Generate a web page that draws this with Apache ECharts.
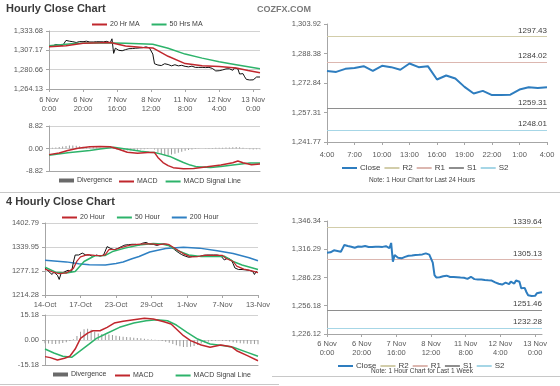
<!DOCTYPE html>
<html><head><meta charset="utf-8">
<script src="https://cdn.jsdelivr.net/npm/echarts@6/dist/echarts.min.js"></script>
<style>html,body{margin:0;padding:0;background:#fff}#c{width:560px;height:386px}</style>
</head><body><div id="c"></div><script>
// ---------- DATA ----------
const hourDays = ['6 Nov','7 Nov','8 Nov','11 Nov','12 Nov','13 Nov'];
const hoursInDay = [24,24,24,24,24,5];
const dayHours = ['4:00','5:00','6:00','7:00','8:00','9:00','10:00','11:00','12:00','13:00','14:00','15:00','16:00','17:00','18:00','19:00','20:00','21:00','22:00','23:00','0:00','1:00','2:00','3:00','4:00'];
const fourHourTicks = ['14-Oct','17-Oct','23-Oct','29-Oct','1-Nov','7-Nov','13-Nov'];

// hourly close, 6 Nov 0:00 .. 13 Nov 4:00
const weekClose = [
1312.6,1310.8,1313.0,1314.7,1315.2,1315.4,1314.4,1314.8,1313.6,1317.2,
1320.8,1321.5,1319.7,1319.3,1319.0,1318.4,1317.9,1318.6,1319.2,1318.8,
1319.0,1319.4,1319.7,1319.2,1318.6,1319.4,1318.6,1317.9,1319.0,1319.7,
1318.9,1317.9,1318.8,1320.0,1319.5,1319.0,1317.4,1323.0,1303.0,1310.1,
1309.0,1307.2,1306.8,1306.6,1307.5,1308.2,1308.8,1309.4,1309.0,1309.6,
1310.1,1310.1,1309.6,1310.4,1310.8,1310.8,1311.4,1311.9,1310.1,1310.6,
1310.0,1302.0,1288.8,1286.3,1287.0,1286.5,1286.3,1287.5,1288.8,1288.2,
1287.7,1286.8,1285.9,1286.8,1287.4,1286.5,1285.9,1286.2,1286.6,1286.0,
1285.2,1284.8,1284.5,1287.0,1285.5,1284.5,1283.8,1284.2,1283.8,1284.0,
1283.8,1283.5,1283.5,1283.2,1283.8,1283.0,1282.4,1281.0,1278.9,1279.6,
1279.2,1278.7,1280.3,1280.7,1281.7,1279.2,1281.9,1281.2,1279.8,1283.1,
1281.2,1281.7,1274.7,1276.8,1275.2,1270.8,1267.3,1268.7,1266.5,1266.5,
1266.7,1269.4,1270.6,1270.2,1270.6];
const dayStartIndex = 100; // 12 Nov 4:00

const ma20Hourly = [[0,1312],[10,1313.5],[20,1317],[30,1317.5],[36,1318],[45,1313],[55,1311],[61,1310.5],[70,1299],[80,1289],[90,1286],[100,1285],[110,1283],[117,1279.5],[124,1276.5]];
const ma50Hourly = [[0,1313.5],[15,1316.5],[30,1317.5],[45,1317],[61,1315.5],[70,1310],[80,1302],[90,1296.5],[100,1291.5],[110,1287.5],[124,1282]];
const macdHourly = [[0,-2.4],[6,-1.8],[11,-0.8],[17,0.1],[24,0.7],[30,0.8],[36,0.7],[41,-0.3],[46,-1.5],[52,-1.9],[58,-1.6],[62,-1.6],[64,-3.5],[67,-5.5],[70,-6.7],[73,-7.5],[79,-7.9],[85,-7.8],[93,-7.2],[101,-6.5],[108,-5.6],[111,-4.9],[114,-5.6],[119,-6.4],[124,-6.1]];
const signalHourly = [[0,-2.6],[11,-1.7],[24,-0.8],[30,-0.2],[36,0.3],[38,0.5],[43,0.0],[48,-0.5],[54,-1.1],[59,-1.5],[62,-1.6],[66,-2.2],[71,-3.1],[75,-4.3],[79,-5.5],[83,-6.5],[87,-7.2],[95,-7.4],[101,-7.1],[108,-6.5],[118,-5.7],[124,-5.7]];
// divergence, every 2nd hour
const divHourly = [0.2,0.3,0.4,0.6,0.8,1.0,1.2,1.2,1.1,0.9,0.7,0.6,0.5,0.5,0.4,0.3,0.2,0.1,0.0,-0.2,-0.5,-0.7,-0.8,-0.8,-0.7,-0.6,-0.5,-0.4,-0.3,-0.2,-0.1,-0.4,-1.6,-2.3,-2.6,-2.6,-2.4,-2.1,-1.7,-1.3,-0.9,-0.6,-0.4,-0.2,-0.1,0.0,0.1,0.2,0.2,0.3,0.3,0.3,0.4,0.4,0.5,0.6,0.5,0.3,-0.1,-0.3,-0.4,-0.3,-0.3];

// 4-hourly
const close4h = [
1285,1281,1276,1279,1268,1274,1272,1266,1255,1270,
1272,1275,1276,1279,1280,1276,1300,1319,1316,1319,
1322,1324,1320,1319,1321,1319,1316,1315,1318,1319,
1315,1316,1317,1319,1318,1341,1338,1336,1334,1333,
1332,1336,1339,1341,1343,1345,1344,1346,1348,1347,
1345,1347,1349,1345,1347,1350,1348,1352,1349,1347,
1349,1347,1345,1344,1346,1347,1346,1348,1353,1345,
1343,1341,1340,1333,1328,1326,1324,1320,1319,1316,
1315,1313,1311,1315,1314,1315,1316,1315,1317,1318,
1319,1319,1318,1319,1320,1319,1318,1319,1318,1317,
1319,1306,1309,1311,1308,1306,1296,1285,1283,1281,
1280,1281,1282,1280,1281,1279,1277,1276,1268,1276,1272];
const ma20_4h = [[0,1282],[4,1275],[8,1270],[12,1272],[16,1284],[18,1303],[20,1314],[24,1320],[28,1318],[32,1317],[34,1320],[36,1333],[40,1334],[44,1340],[48,1345],[52,1347],[56,1348],[60,1348],[64,1346],[68,1348],[70,1346],[74,1334],[78,1322],[82,1314],[86,1315],[90,1318],[96,1318],[100,1318],[102,1310],[106,1302],[108,1290],[112,1282],[116,1278],[120,1273]];
const ma50_4h = [[0,1287],[6,1274],[12,1272],[17,1276],[22,1302],[28,1317],[34,1318],[38,1328],[45,1337],[53,1345],[61,1349],[66,1348],[70,1343],[76,1328],[81,1319],[88,1315],[96,1315],[101,1316],[106,1302],[111,1293],[120,1281]];
const ma200_4h = [[0,1305],[12,1301],[19,1296],[25,1293.5],[34,1293],[40,1297],[44,1300.5],[49,1309],[53,1315],[59,1327],[68,1336],[78,1339],[87,1337],[97,1330],[106,1323],[115,1312],[120,1304]];
const macd4h = [[0,-10.1],[3,-10.7],[7,-12.1],[11,-11.1],[14,-9.9],[17,-5.5],[20,1.0],[24,4.2],[27,5.6],[31,5.6],[35,7.7],[39,10.3],[44,11.4],[50,12.3],[56,13.2],[61,12.8],[67,11.1],[71,9.7],[74,6.7],[78,2.6],[82,-0.4],[88,-3.0],[93,-4.4],[99,-3.0],[105,-4.1],[108,-6.5],[114,-9.5],[120,-12.6]];
const signal4h = [[0,-5.5],[5,-7.9],[10,-9.9],[15,-10.5],[20,-6.5],[25,-2.4],[29,1.0],[35,4.1],[42,7.7],[50,10.3],[57,11.7],[63,12.3],[69,11.7],[74,9.1],[80,4.7],[86,0.6],[93,-2.4],[101,-3.5],[106,-4.4],[114,-7.5],[120,-9.9]];
const div4h = [-2.0,-2.2,-2.4,-2.5,-2.3,-1.8,-1.3,-0.6,0.5,2.5,5.0,6.5,6.8,6.2,5.0,4.0,3.6,3.5,3.4,3.0,2.6,2.3,2.0,1.8,1.6,1.4,1.2,1.0,0.8,0.5,0.3,0.1,-0.2,-0.6,-1.0,-1.6,-2.4,-3.2,-3.8,-4.2,-4.3,-4.1,-3.6,-3.0,-2.2,-1.5,-1.0,-0.6,-0.4,-0.3,-0.4,-0.6,-0.9,-1.3,-1.7,-2.0,-2.2,-2.3,-2.4,-2.5,-2.6];

// pivot levels
const dayLevels = {R2:1297.43, R1:1284.02, S1:1259.31, S2:1248.01};
const weekLevels = {R2:1339.64, R1:1305.13, S1:1251.46, S2:1232.28};

// axis ticks
const ticksA = [1254.15,1280.66,1307.17,1333.68], labelsA = ['1,264.13','1,280.66','1,307.17','1,333.68'];
const ticksB = [-8.82,0,8.82], labelsB = ['-8.82','0.00','8.82'];
const ticksC = [1214.28,1277.12,1339.95,1402.79], labelsC = ['1214.28','1277.12','1339.95','1402.79'];
const ticksD = [-15.18,0,15.18], labelsD = ['-15.18','0.00','15.18'];
const ticksE = [1241.77,1257.31,1272.84,1288.38,1303.92], labelsE = ['1,241.77','1,257.31','1,272.84','1,288.38','1,303.92'];
const ticksF = [1226.12,1256.18,1286.23,1316.29,1346.34], labelsF = ['1,226.12','1,256.18','1,286.23','1,316.29','1,346.34'];

// ---------- BUILD ----------
const hourCats = [];
hourDays.forEach((d, k) => { for (let h = 0; h < hoursInDay[k]; h++) hourCats.push(d + '\n' + h + ':00'); });
const fourHourCats = [];
for (let i = 0; i <= (fourHourTicks.length - 1) * 20; i++) fourHourCats.push(i % 20 === 0 ? fourHourTicks[i / 20] : '');
const dayClose = weekClose.slice(dayStartIndex);
const pairsEvery = (arr, step) => arr.map((v, k) => [k * step, v]);

const FONT = 'Liberation Sans';
const C = {black:'#111111', red:'#c0272d', green:'#2db36a', blue:'#2f80c3', rclose:'#2e7dbf',
  R2:'#d2cdaa', R1:'#dcb7b0', S1:'#8e8e8e', S2:'#a6d6e6', div:'#9a9a9a', axis:'#a6a6a6', grid:'#d2d2d2', label:'#595959'};

function yAx(g, ticks, labels, split) {
  return {
    type:'value', gridIndex:g, min:ticks[0], max:ticks[ticks.length-1],
    axisLine:{show:true, lineStyle:{color:C.axis}},
    axisTick:{show:true, length:3, customValues:ticks, lineStyle:{color:C.axis}},
    axisLabel:{customValues:ticks, fontSize:7.5, color:C.label, fontFamily:FONT, margin:6,
      formatter:v => { const k = ticks.findIndex(t => Math.abs(t - v) < 1e-6); return k >= 0 ? labels[k] : ''; }},
    splitLine:{show:split, lineStyle:{color:C.grid}}
  };
}
function xAx(g, data, interval, showLabel, margin) {
  return {
    type:'category', gridIndex:g, data:data, boundaryGap:false,
    axisLine:{show:true, onZero:false, lineStyle:{color:C.axis}},
    axisTick:{show:showLabel, interval:interval, length:3, lineStyle:{color:C.axis}},
    axisLabel:{show:showLabel, interval:interval, fontSize:7.5, color:C.label, fontFamily:FONT, lineHeight:9, margin:margin},
    splitLine:{show:false}
  };
}
function line(name, xi, data, color, width, z) {
  return {name, type:'line', xAxisIndex:xi, yAxisIndex:xi, data, symbol:'none', silent:true, z:z||2,
    lineStyle:{color, width}, itemStyle:{color}};
}
function bars(name, xi, data) {
  return {name, type:'bar', xAxisIndex:xi, yAxisIndex:xi, data, barWidth:1, silent:true,
    itemStyle:{color:C.div}};
}
function level(name, xi, value) {
  return {name, type:'line', xAxisIndex:xi, yAxisIndex:xi, data:[], symbol:'none', silent:true,
    lineStyle:{color:C[name], width:1}, itemStyle:{color:C[name]},
    markLine:{silent:true, symbol:'none', animation:false,
      lineStyle:{color:C[name], type:'solid', width:1.2},
      label:{position:'insideEndTop', distance:[0,2], fontSize:8, color:'#404040', fontFamily:FONT,
        formatter:p => p.value.toFixed(2)},
      data:[{yAxis:value}]}};
}
function legend(left, top, data, gap, size, h) {
  return {left, top, data, itemGap:gap, itemWidth:15, itemHeight:h||2, icon:'rect', padding:0, selectedMode:false,
    textStyle:{fontSize:size||7, color:'#404040', fontFamily:FONT, padding:[0,0,0,-2]}};
}

const option = {
  animation:false,
  backgroundColor:'#fff',
  title:[
    {text:'Hourly Close Chart', left:6, top:3, padding:0, textStyle:{fontSize:11, fontWeight:'bold', color:'#3a3a3a', fontFamily:FONT}},
    {text:'COZFX.COM', left:257, top:5, padding:0, textStyle:{fontSize:9, fontWeight:'bold', color:'#7a7a7a', fontFamily:FONT}},
    {text:'4 Hourly Close Chart', left:6, top:196, padding:0, textStyle:{fontSize:11, fontWeight:'bold', color:'#3a3a3a', fontFamily:FONT}}
  ],
  grid:[
    {left:49, top:31, width:211, height:58, outerBoundsMode:'none'},
    {left:49, top:126, width:211, height:45, outerBoundsMode:'none'},
    {left:45, top:223, width:213, height:72, outerBoundsMode:'none'},
    {left:45, top:315, width:213, height:50, outerBoundsMode:'none'},
    {left:327, top:24, width:220, height:118, outerBoundsMode:'none'},
    {left:327, top:221, width:215, height:113, outerBoundsMode:'none'}
  ],
  xAxis:[
    xAx(0, hourCats, 19, true, 6),
    xAx(1, hourCats, 19, false, 5),
    xAx(2, fourHourCats, 19, true, 5),
    xAx(3, fourHourCats, 19, false, 5),
    xAx(4, dayHours, 2, true, 8),
    xAx(5, hourCats, 19, true, 5)
  ],
  yAxis:[
    yAx(0, ticksA, labelsA, true),
    yAx(1, ticksB, labelsB, true),
    yAx(2, ticksC, labelsC, true),
    yAx(3, ticksD, labelsD, true),
    yAx(4, ticksE, labelsE, false),
    yAx(5, ticksF, labelsF, false)
  ],
  legend:[
    legend(92, 21, ['20 Hr MA','50 Hrs MA'], 12),
    legend(59, 177, [{name:'Divergence', itemStyle:{color:'#6a6a6a'}}], 6, 7, 4),
    legend(119, 178, ['MACD','MACD Signal Line'], 8),
    legend(62, 214, ['20 Hour','50 Hour','200 Hour'], 12),
    legend(53, 371, [{name:'Divergence', itemStyle:{color:'#6a6a6a'}}], 6, 7, 4),
    legend(115, 372, ['MACD','MACD Signal Line'], 22),
    legend(342, 164, ['Close','R2','R1','S1','S2'], 4, 8),
    legend(338, 362, ['Close','R2','R1','S1','S2'], 4, 8)
  ],
  graphic:[
    {type:'line', shape:{x1:0, y1:192.5, x2:560, y2:192.5}, style:{stroke:'#c8c8c8', lineWidth:1}},
    {type:'line', shape:{x1:0, y1:384.5, x2:279, y2:384.5}, style:{stroke:'#c8c8c8', lineWidth:1}},
    {type:'line', shape:{x1:272, y1:376.5, x2:560, y2:376.5}, style:{stroke:'#c8c8c8', lineWidth:1}},
    {type:'text', x:422, y:180.5, style:{text:'Note: 1 Hour Chart for Last 24 Hours', align:'center', verticalAlign:'middle', fontSize:6.5, fill:'#444', fontFamily:FONT}},
    {type:'text', x:422, y:371, style:{text:'Note: 1 Hour Chart for Last 1 Week', align:'center', verticalAlign:'middle', fontSize:6.5, fill:'#444', fontFamily:FONT}}
  ],
  series:[
    line('Hourly Close', 0, weekClose, C.black, 1, 2),
    line('50 Hrs MA', 0, ma50Hourly, C.green, 1.5, 3),
    line('20 Hr MA', 0, ma20Hourly, C.red, 1.5, 4),
    bars('Divergence', 1, pairsEvery(divHourly, 2)),
    line('MACD Signal Line', 1, signalHourly, C.green, 1.5, 3),
    line('MACD', 1, macdHourly, C.red, 1.5, 4),
    line('200 Hour', 2, ma200_4h, C.blue, 1.5, 2),
    line('4H Close', 2, close4h, C.black, 1, 3),
    line('50 Hour', 2, ma50_4h, C.green, 1.5, 4),
    line('20 Hour', 2, ma20_4h, C.red, 1.2, 5),
    bars('Divergence', 3, pairsEvery(div4h, 2)),
    line('MACD Signal Line', 3, signal4h, C.green, 1.5, 3),
    line('MACD', 3, macd4h, C.red, 1.5, 4),
    line('Close', 4, dayClose, C.rclose, 2, 5),
    level('R2', 4, dayLevels.R2), level('R1', 4, dayLevels.R1), level('S1', 4, dayLevels.S1), level('S2', 4, dayLevels.S2),
    line('Close', 5, weekClose, C.rclose, 2, 5),
    level('R2', 5, weekLevels.R2), level('R1', 5, weekLevels.R1), level('S1', 5, weekLevels.S1), level('S2', 5, weekLevels.S2)
  ]
};
const chart = echarts.init(document.getElementById('c'), null, {renderer:'canvas'});
chart.setOption(option);
</script></body></html>
